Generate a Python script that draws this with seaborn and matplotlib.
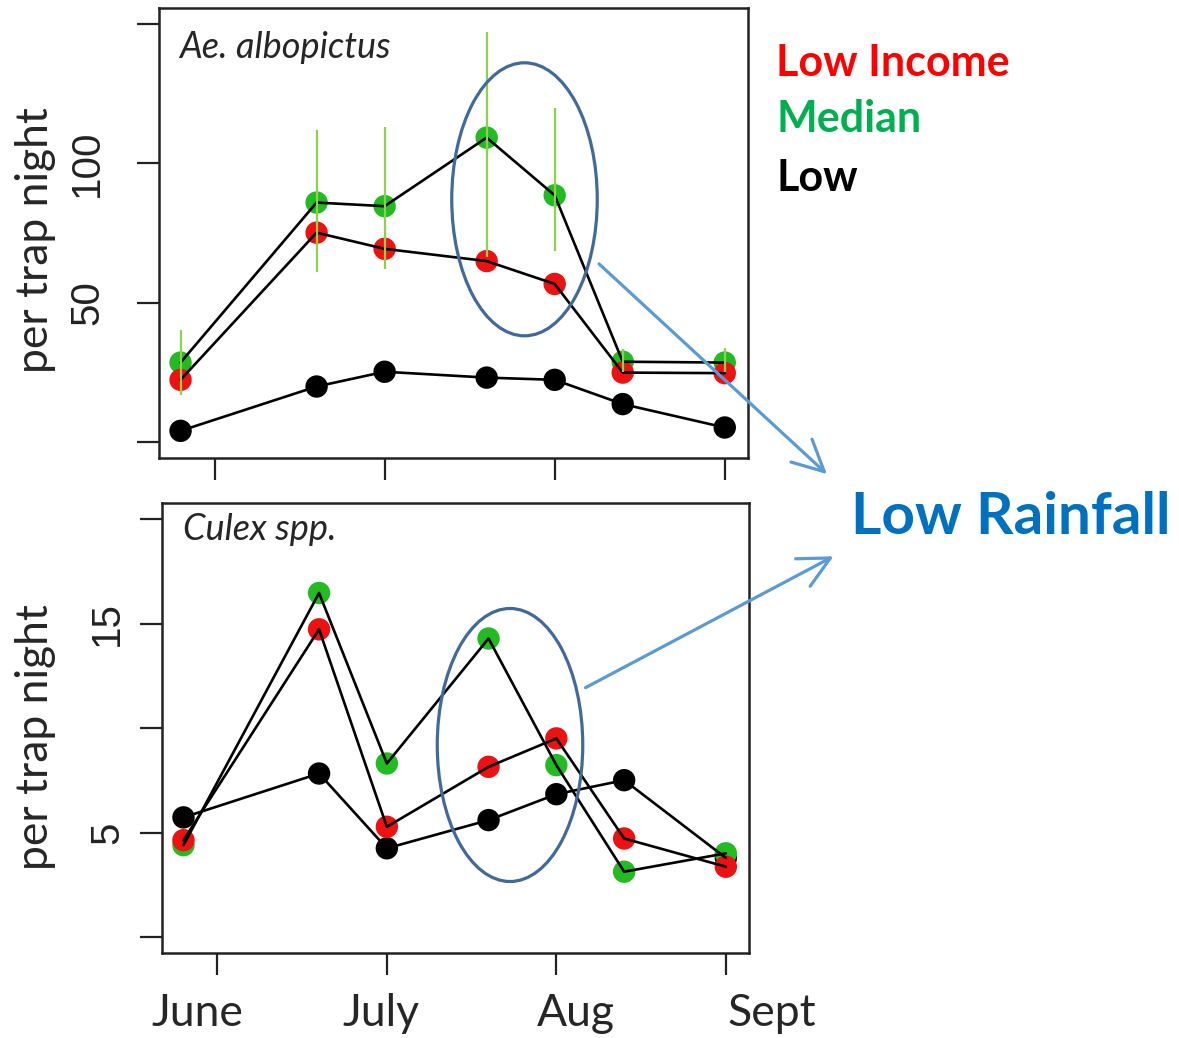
import numpy as np
import pandas as pd
import seaborn as sns
import matplotlib.pyplot as plt
from matplotlib.patches import Ellipse, FancyArrowPatch

# days after the June tick for each trap collection
days = [-6, 18, 30, 48, 60, 72, 90]
groups = ['Low', 'Median', 'Low Income']

# Ae. albopictus, per trap night
ae_low_income = [22.3, 75.1, 69.3, 64.9, 56.7, 24.9, 24.7]
ae_median = [28.5, 85.9, 84.6, 109.2, 88.5, 28.8, 28.5]
ae_low = [4.0, 19.9, 25.2, 23.1, 22.3, 13.6, 5.2]
ae_median_lo = [17.0, 61.0, 62.0, 66.5, 68.7, 25.0, 25.0]
ae_median_hi = [40.0, 112.0, 113.0, 147.0, 120.0, 33.5, 33.8]

# Culex spp., per trap night
cx_low_income = [4.65, 14.74, 5.29, 8.16, 9.52, 4.73, 3.38]
cx_median = [4.41, 16.48, 8.32, 14.30, 8.24, 3.14, 4.02]
cx_low = [5.74, 7.84, 4.26, 5.61, 6.85, 7.52, 3.8]

month_ticks = [0, 30, 60, 90]
month_labels = ['June', 'July', 'Aug', 'Sept']

colors = {'Low Income': '#ee1111', 'Median': '#22bb22', 'Low': '#000000'}

W, H = 1179, 1038


def make_df(low, median, low_income):
    rows = []
    for g, vals in zip(groups, [low, median, low_income]):
        for d, v in zip(days, vals):
            rows.append({'day': d, 'value': v, 'group': g})
    return pd.DataFrame(rows)


def px(x, y):
    return (x / W, 1 - y / H)


sns.set_style('white')
plt.rcParams['font.family'] = ['Lato', 'DejaVu Sans']

fig = plt.figure(figsize=(W / 100, H / 100), dpi=100)
ax1 = fig.add_axes([159 / W, 1 - 458.3 / H, 589 / W, 450.3 / H])
ax2 = fig.add_axes([162 / W, 1 - 953 / H, 587 / W, 450.3 / H])


def draw_panel(ax, df, ylim, yticks, ylabels, title, title_y, pad):
    sns.scatterplot(data=df, x='day', y='value', hue='group', hue_order=groups,
                    palette=colors, s=260, edgecolor='none', legend=False,
                    ax=ax, zorder=2)
    sns.lineplot(data=df, x='day', y='value', hue='group', hue_order=groups,
                 palette=['black'] * 3, linewidth=1.9, legend=False, ax=ax,
                 zorder=4, sort=False)
    ax.set_xlim(-9.8, 94.1)
    ax.set_ylim(*ylim)
    ax.set_xticks(month_ticks)
    ax.set_xticklabels([])
    ax.set_yticks(yticks)
    ax.set_yticklabels(ylabels, rotation=90, va='center', family='Liberation Sans',
                       fontsize=29, color='#222222')
    ax.tick_params(axis='y', length=16, width=1.6, color='#222222', pad=pad,
                   direction='out', left=True)
    ax.tick_params(axis='x', length=16, width=1.6, color='#222222',
                   direction='out', bottom=True)
    ax.set_xlabel('')
    ax.set_ylabel('')
    for s in ax.spines.values():
        s.set_linewidth(1.8)
        s.set_color('#222222')
    ax.text(0.035, title_y, title, transform=ax.transAxes, style='italic',
            fontsize=26, va='top', ha='left')


draw_panel(ax1, make_df(ae_low, ae_median, ae_low_income), (-5.85, 155.7),
           [0, 50, 100, 150], ['', '50', '100', ''], 'Ae. albopictus', 0.95, 22)
ax1.vlines(days, ae_median_lo, ae_median_hi, color='#8fd14f', linewidth=1.6,
           zorder=5)

draw_panel(ax2, make_df(cx_low, cx_median, cx_low_income), (-0.75, 20.8),
           [0, 5, 10, 15, 20], ['', '5', '', '15', ''], 'Culex spp.', 0.978, 10)

# y labels
fig.text(*px(36, 240), 'per trap night', rotation=90, fontsize=32,
         ha='center', va='center')
fig.text(*px(36, 737), 'per trap night', rotation=90, fontsize=32,
         ha='center', va='center')

# month names under the bottom panel
for xm, lab in zip([197, 381, 576, 772], month_labels):
    fig.text(*px(xm, 1013), lab, fontsize=32, ha='center', va='center')

# legend text
fig.text(*px(776, 63), 'Low Income', color='#ff0000', fontsize=31,
         fontweight='bold', va='center')
fig.text(*px(776, 119), 'Median', color='#00b050', fontsize=31,
         fontweight='bold', va='center')
fig.text(*px(776, 178), 'Low', color='black', fontsize=31,
         fontweight='bold', va='center')
fig.text(*px(851, 518), 'Low Rainfall', color='#0070c0', fontsize=42,
         fontweight='bold', va='center')

# ellipses and arrows
for cx, cy in [(524.5, 199.3), (510, 745)]:
    fig.add_artist(Ellipse(px(cx, cy), 145.5 / W, 273 / H,
                           transform=fig.transFigure, fill=False,
                           edgecolor='#41699a', linewidth=2.3, zorder=10))
for a, b in [((597, 262), (829, 476)), ((583, 689), (836, 555))]:
    fig.add_artist(FancyArrowPatch(px(*a), px(*b), transform=fig.transFigure,
                                   arrowstyle='->,head_length=0.8,head_width=0.4',
                                   mutation_scale=28, color='#5b9bd5',
                                   linewidth=2.3, zorder=10))

fig.savefig('out.png', dpi=100)
